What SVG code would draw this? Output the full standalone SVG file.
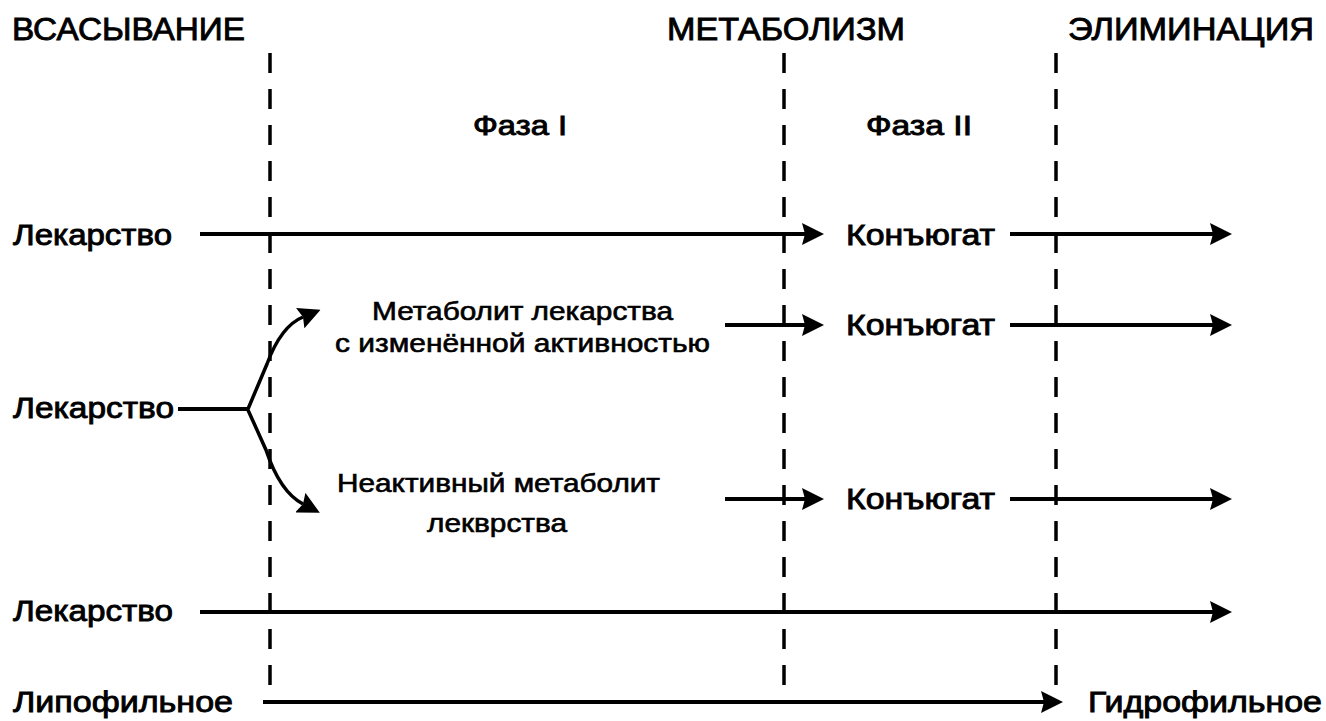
<svg xmlns="http://www.w3.org/2000/svg" width="1326" height="721" viewBox="0 0 1326 721">
  <style>
    text { font-family: "Liberation Sans", Arial, sans-serif; fill: #000; font-weight: normal; stroke: #000; stroke-width: 0.9px; }
    .head { font-size: 32px; }
    .lbl { font-size: 30px; }
    .phase { font-size: 28px; }
    .mid { font-size: 25px; stroke-width: 0.6px; }
    .sep { stroke: #000; stroke-width: 3.5; stroke-dasharray: 20 16; fill: none; }
    .flow { stroke: #000; stroke-width: 4; fill: none; marker-end: url(#arr); }
    .plain { stroke: #000; stroke-width: 4; fill: none; }
    .branch { stroke: #000; stroke-width: 3.5; fill: none; marker-end: url(#arr); }
  </style>
  <defs>
    <marker id="arr" markerUnits="userSpaceOnUse" viewBox="0 0 22 22" refX="3" refY="11" markerWidth="22" markerHeight="22" orient="auto">
      <path d="M0,0 L22,11 L0,22 L3,11 z" fill="#000"/>
    </marker>
  </defs>
  <rect width="1326" height="721" fill="#fff"/>

  <!-- stage headings -->
  <g id="headings">
    <text class="head" x="12" y="40" textLength="233" lengthAdjust="spacingAndGlyphs">ВСАСЫВАНИЕ</text>
    <text class="head" x="667" y="40" textLength="238" lengthAdjust="spacingAndGlyphs">МЕТАБОЛИЗМ</text>
    <text class="head" x="1068" y="40" textLength="246" lengthAdjust="spacingAndGlyphs">ЭЛИМИНАЦИЯ</text>
  </g>

  <!-- stage boundaries -->
  <g id="separators">
    <line class="sep" x1="270" y1="53" x2="270" y2="692"/>
    <line class="sep" x1="784" y1="53" x2="784" y2="692"/>
    <line class="sep" x1="1056" y1="53" x2="1056" y2="692"/>
  </g>

  <g id="phase1"><text class="phase" x="473" y="135" textLength="94" lengthAdjust="spacingAndGlyphs">Фаза I</text></g>
  <g id="phase2"><text class="phase" x="866" y="135" textLength="106" lengthAdjust="spacingAndGlyphs">Фаза II</text></g>

  <!-- sources -->
  <g id="drug1"><text class="lbl" x="13" y="245" textLength="159" lengthAdjust="spacingAndGlyphs">Лекарство</text></g>
  <g id="drug2"><text class="lbl" x="13" y="418" textLength="161" lengthAdjust="spacingAndGlyphs">Лекарство</text></g>
  <g id="drug3"><text class="lbl" x="13" y="621" textLength="160" lengthAdjust="spacingAndGlyphs">Лекарство</text></g>

  <!-- phase I products -->
  <g id="active-metabolite">
    <text class="mid" x="372" y="320" textLength="301" lengthAdjust="spacingAndGlyphs">Метаболит лекарства</text>
    <text class="mid" x="335" y="352" textLength="375" lengthAdjust="spacingAndGlyphs">с изменённой активностью</text>
  </g>
  <g id="inactive-metabolite">
    <text class="mid" x="337" y="492" textLength="323" lengthAdjust="spacingAndGlyphs">Неактивный метаболит</text>
    <text class="mid" x="427" y="532" textLength="140" lengthAdjust="spacingAndGlyphs">лекврства</text>
  </g>

  <!-- phase II products -->
  <g id="conj1"><text class="lbl" x="846" y="245" textLength="149" lengthAdjust="spacingAndGlyphs">Конъюгат</text></g>
  <g id="conj2"><text class="lbl" x="846" y="335" textLength="149" lengthAdjust="spacingAndGlyphs">Конъюгат</text></g>
  <g id="conj3"><text class="lbl" x="846" y="509" textLength="149" lengthAdjust="spacingAndGlyphs">Конъюгат</text></g>

  <!-- polarity scale -->
  <g id="lipophilic"><text class="lbl" x="13" y="712" textLength="220" lengthAdjust="spacingAndGlyphs">Липофильное</text></g>
  <g id="hydrophilic"><text class="lbl" x="1088" y="712" textLength="234" lengthAdjust="spacingAndGlyphs">Гидрофильное</text></g>

  <g id="connectors">
    <!-- drug conjugated directly -->
    <line class="flow" x1="200" y1="234" x2="805" y2="234"/>
    <line class="flow" x1="1010" y1="234" x2="1213" y2="234"/>
    <!-- drug via phase I -->
    <line class="plain" x1="178" y1="409" x2="249" y2="409"/>
    <path class="branch" d="M248,409 L267,364 Q281,326 303,317"/>
    <path class="branch" d="M248,410 L266,450 Q280,492 303,504"/>
    <line class="flow" x1="725" y1="325" x2="805" y2="325"/>
    <line class="flow" x1="1010" y1="325" x2="1213" y2="325"/>
    <line class="flow" x1="725" y1="499" x2="805" y2="499"/>
    <line class="flow" x1="1010" y1="499" x2="1213" y2="499"/>
    <!-- drug eliminated unchanged -->
    <line class="flow" x1="200" y1="612" x2="1213" y2="612"/>
    <!-- lipophilic to hydrophilic -->
    <line class="flow" x1="263" y1="702" x2="1044" y2="702"/>
  </g>
</svg>
